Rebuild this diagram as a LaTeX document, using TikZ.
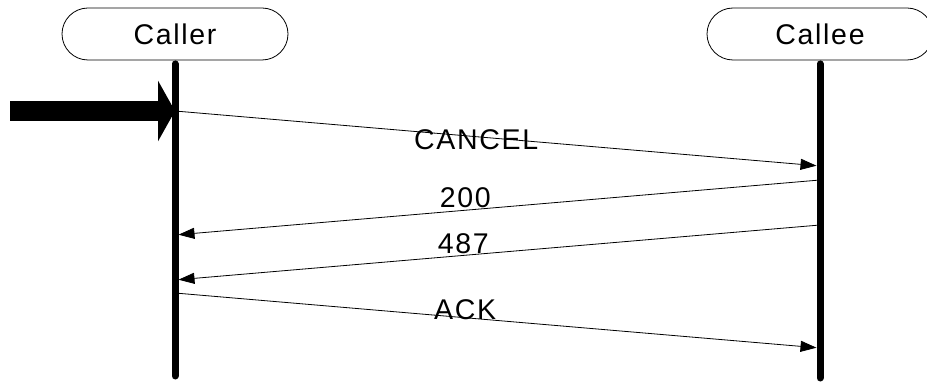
\documentclass[tikz,border=0pt]{standalone}
\usepackage{fontspec}
\setmainfont{Liberation Sans}[LetterSpace=6]
\usetikzlibrary{arrows.meta,shapes.misc,positioning}

\begin{document}
\begin{tikzpicture}[x=1pt,y=-1pt,
  every node/.style={font=\fontsize{28.5}{32}\selectfont,inner sep=0pt},
  entity/.style={draw,rounded rectangle,minimum width=226pt,minimum height=52pt,line width=0.8pt},
  lifeline/.style={line width=7pt,line cap=round,shorten <=3.5pt},
  msg/.style={-{Triangle[length=16pt,width=11pt]},line width=0.8pt,shorten >=3.5pt}]
  \useasboundingbox (0,0) rectangle (927,382);
  % Participants and their lifelines
  \node[entity] (caller) at (175,34) {Caller};
  \node[entity] (callee) at (820,34) {Callee};
  \coordinate (callerend) at (175,376);
  \coordinate (calleeend) at (820,378);
  \draw[lifeline] (caller.south) -- (callerend);
  \draw[lifeline] (callee.south) -- (calleeend);

  % Points where the messages meet the lifelines
  \coordinate (c1) at (175,111);
  \coordinate (e1) at (820,166);
  \coordinate (e2) at (820,180);
  \coordinate (c2) at (175,235);
  \coordinate (e3) at (820,225);
  \coordinate (c3) at (175,280);
  \coordinate (c4) at (175,293);
  \coordinate (e4) at (820,348);
  \coordinate (trigger) at (10,111);

  % Trigger arrow
  \draw[line width=20pt,-{Triangle[length=17pt,width=60pt]}] (trigger) -- (c1);

  % Messages
  \draw[msg] (c1) -- node[pos=0.467,yshift=-3pt] {CANCEL} (e1);
  \draw[msg] (e2) -- node[pos=0.55,yshift=13pt] {200} (c2);
  \draw[msg] (e3) -- node[pos=0.553,yshift=12pt] {487} (c3);
  \draw[msg] (c4) -- node[pos=0.45,yshift=8pt] {ACK} (e4);
\end{tikzpicture}
\end{document}
